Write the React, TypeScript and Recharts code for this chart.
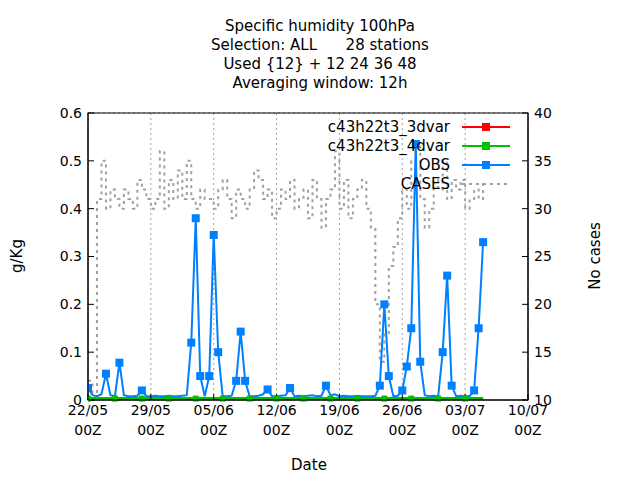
import React from 'react';
import { LineChart, Line, XAxis, YAxis, CartesianGrid } from 'recharts';

const days = Array.from({ length: 89 }, (_, i) => i / 2);
const obs = [
  0.025, 0.01, 0.008, 0.012, 0.055, 0.01, 0.008, 0.078, 0.01, 0.008,
  0.008, 0.009, 0.02, 0.008, 0.008, 0.009, 0.008, 0.008, 0.009, 0.008,
  0.008, 0.009, 0.01, 0.12, 0.38, 0.05, 0.008, 0.05, 0.345, 0.1,
  0.008, 0.008, 0.009, 0.04, 0.143, 0.04, 0.008, 0.008, 0.009, 0.012,
  0.022, 0.008, 0.008, 0.009, 0.01, 0.025, 0.008, 0.009, 0.008, 0.009,
  0.01, 0.008, 0.009, 0.03, 0.01, 0.012, 0.008, 0.009, 0.008, 0.008,
  0.009, 0.008, 0.008, 0.008, 0.009, 0.03, 0.2, 0.05, 0.008, 0.009,
  0.02, 0.07, 0.15, 0.535, 0.08, 0.01, 0.008, 0.009, 0.008, 0.1,
  0.26, 0.03, 0.008, 0.009, 0.008, 0.008, 0.02, 0.15, 0.33,
];
const model3 = days.map(() => 0.003);
const model4 = days.map(() => 0.003);
const cases = [
  12, 10, 31, 35, 30, 32, 31, 30, 32, 31,
  30, 33, 32, 31, 30, 31, 36, 30, 33, 31,
  34, 31, 35, 31, 30, 32, 31, 31, 30, 32,
  33, 31, 29, 32, 31, 30, 32, 34, 33, 31,
  32, 29, 30, 32, 31, 33, 30, 31, 32, 29,
  33, 31, 28, 31, 32, 36, 30, 33, 29, 31,
  32, 33, 30, 28, 20, 14, 17, 24, 26, 29,
  32, 30, 35, 37, 31, 28, 30, 33, 32, 35,
  31, 33, 32, 33, 30, 31, 32, 31, 33,
];
const xTicks = [0, 7, 14, 21, 28, 35, 42, 49];
const xLabels = ['22/05', '29/05', '05/06', '12/06', '19/06', '26/06', '03/07', '10/07'];
const yTicks = [0, 0.1, 0.2, 0.3, 0.4, 0.5, 0.6];
const y2Ticks = [10, 15, 20, 25, 30, 35, 40];
const titles = ['Specific humidity 100hPa', 'Selection: ALL      28 stations', 'Used {12} + 12 24 36 48', 'Averaging window: 12h'];

const data = days.map((d, i) => ({ d, obs: obs[i], m3: model3[i], m4: model4[i], cases: cases[i] }));

const XTick = (p: any) => {
  const idx = xTicks.indexOf(p.payload.value);
  return (
    <g>
      <text x={p.x} y={p.y + 19} textAnchor="middle" fontSize={14} fill="#000">{xLabels[idx]}</text>
      <text x={p.x} y={p.y + 39} textAnchor="middle" fontSize={14} fill="#000">00Z</text>
    </g>
  );
};

const font = 'DejaVu Sans, sans-serif';

export default function App() {
  const legend = [
    { t: 'c43h22t3_3dvar', c: '#ff0000', dash: false },
    { t: 'c43h22t3_4dvar', c: '#00c000', dash: false },
    { t: 'OBS', c: '#0080ff', dash: false },
    { t: 'CASES', c: '#a0a0a0', dash: true },
  ];
  return (
    <div style={{ position: 'absolute', left: 0, top: 0, width: 640, height: 480, background: '#fff', fontFamily: font }}>
      {titles.map((t, i) => (
        <div key={i} style={{ position: 'absolute', top: 17 + i * 19, width: 640, textAlign: 'center', fontSize: 15, whiteSpace: 'pre' }}>{t}</div>
      ))}
      <LineChart width={640} height={480} data={data} margin={{ top: 113, right: 72, bottom: 30, left: 48 }} style={{ fontFamily: font }}>
        <CartesianGrid stroke="#a0a0a0" strokeDasharray="2 3" />
        <XAxis dataKey="d" type="number" domain={[0, 49]} ticks={xTicks} tick={<XTick />} height={50} stroke="#000" tickSize={-6} interval={0} allowDataOverflow />
        <YAxis yAxisId="l" domain={[0, 0.6]} ticks={yTicks} width={40} stroke="#000" tickSize={-6} tickFormatter={(v: number) => String(Number(v.toFixed(1)))} tick={{ fill: '#000', fontSize: 14, dx: -10 }} />
        <YAxis yAxisId="r" orientation="right" domain={[10, 40]} ticks={y2Ticks} width={40} stroke="#000" tickSize={-6} tick={{ fill: '#000', fontSize: 14, dx: 10 }} />
        <Line yAxisId="r" dataKey="cases" stroke="#a0a0a0" strokeWidth={2} strokeDasharray="3 4" dot={false} isAnimationActive={false} type="stepAfter" />
        <Line yAxisId="l" dataKey="m3" stroke="#ff0000" strokeWidth={2} dot={false} isAnimationActive={false} />
        <Line yAxisId="l" dataKey="m4" stroke="#00c000" strokeWidth={3} dot={(p: any) => p.index % 6 === 0 ? <rect key={p.index} x={p.cx - 3} y={p.cy - 3} width={6} height={6} fill="#00c000" /> : <g key={p.index} />} isAnimationActive={false} />
        <Line yAxisId="l" dataKey="obs" stroke="#0080ff" strokeWidth={2} dot={(p: any) => p.payload.obs > 0.015 ? <rect key={p.index} x={p.cx - 4} y={p.cy - 4} width={8} height={8} fill="#0080ff" /> : <g key={p.index} />} isAnimationActive={false} />
      </LineChart>
      <svg width={640} height={480} style={{ position: 'absolute', left: 0, top: 0, pointerEvents: 'none' }}>
        <rect x={88} y={113} width={440} height={287} fill="none" stroke="#000" strokeWidth={1} />
        {legend.map((l, i) => (
          <g key={i}>
            <text x={450} y={132 + i * 19} textAnchor="end" fontSize={15} fontFamily={font}>{l.t}</text>
            <line x1={462} x2={510} y1={127 + i * 19} y2={127 + i * 19} stroke={l.c} strokeWidth={2} strokeDasharray={l.dash ? '3 4' : undefined} />
            {!l.dash && <rect x={482} y={123 + i * 19} width={8} height={8} fill={l.c} />}
          </g>
        ))}
        <text x={22} y={256} transform="rotate(-90 22 256)" textAnchor="middle" fontSize={15} fontFamily={font}>g/Kg</text>
        <text x={600} y={256} transform="rotate(-90 600 256)" textAnchor="middle" fontSize={15} fontFamily={font}>No cases</text>
        <text x={309} y={470} textAnchor="middle" fontSize={15} fontFamily={font}>Date</text>
      </svg>
    </div>
  );
}
